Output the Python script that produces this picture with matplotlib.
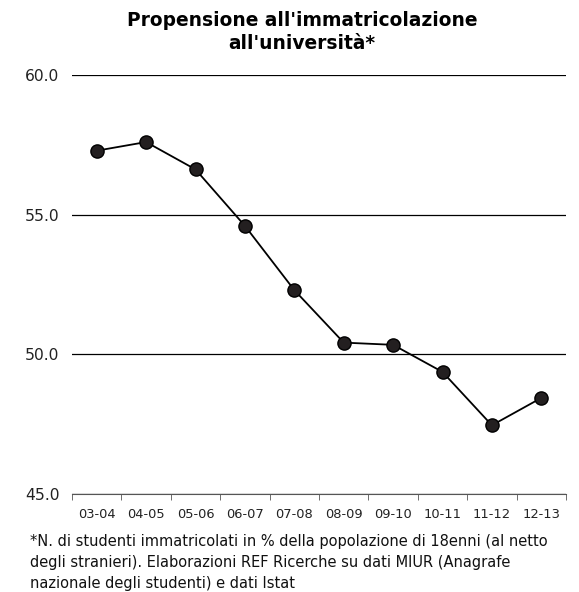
import matplotlib
matplotlib.use("Agg")
import matplotlib.pyplot as plt

years = ["03-04", "04-05", "05-06", "06-07", "07-08", "08-09", "09-10", "10-11", "11-12", "12-13"]
values = [57.29, 57.6, 56.62, 54.6, 52.3, 50.42, 50.34, 49.37, 47.46, 48.44]
yticks = [45.0, 50.0, 55.0, 60.0]
title = "Propensione all'immatricolazione\nall'università*"
note = ("*N. di studenti immatricolati in % della popolazione di 18enni (al netto\n"
        "degli stranieri). Elaborazioni REF Ricerche su dati MIUR (Anagrafe\n"
        "nazionale degli studenti) e dati Istat")

plt.rcParams["font.family"] = "DejaVu Sans"

fig = plt.figure(figsize=(5.79, 5.92), dpi=100)
ax = fig.add_axes([72 / 579, 1 - 494 / 592, 494 / 579, 419 / 592])

x = list(range(len(years)))
ax.plot(x, values, color="black", lw=1.3, marker="o", ms=9.5,
        markerfacecolor="#231f20", markeredgecolor="black", markeredgewidth=1, zorder=3)

ax.set_xlim(-0.5, len(years) - 0.5)
ax.set_ylim(45, 60)
ax.set_yticks(yticks)
ax.set_yticklabels([f"{v:.1f}" for v in yticks], fontsize=11.2)
ax.tick_params(axis="y", length=0, pad=9, labelcolor="#222222")
ax.yaxis.grid(True, color="black", lw=0.9)
ax.set_axisbelow(True)

ax.set_xticks(x)
ax.set_xticklabels(years, fontsize=9.4)
ax.set_xticks([i - 0.5 for i in range(len(years) + 1)], minor=True)
ax.tick_params(axis="x", which="major", length=0, pad=10, labelcolor="#222222")
ax.tick_params(axis="x", which="minor", length=4, color="#555555", direction="out")

for s in ["top", "right", "left"]:
    ax.spines[s].set_visible(False)
ax.spines["bottom"].set_color("#555555")

fig.text(302 / 579, 1 - 32 / 592, title, ha="center", va="center",
         fontsize=13.4, fontweight="bold", linespacing=1.32)
fig.text(30 / 579, 1 - 534 / 592, note, ha="left", va="top",
         fontsize=10.5, color="#111111", linespacing=1.5)

fig.savefig("out.png", dpi=100)
